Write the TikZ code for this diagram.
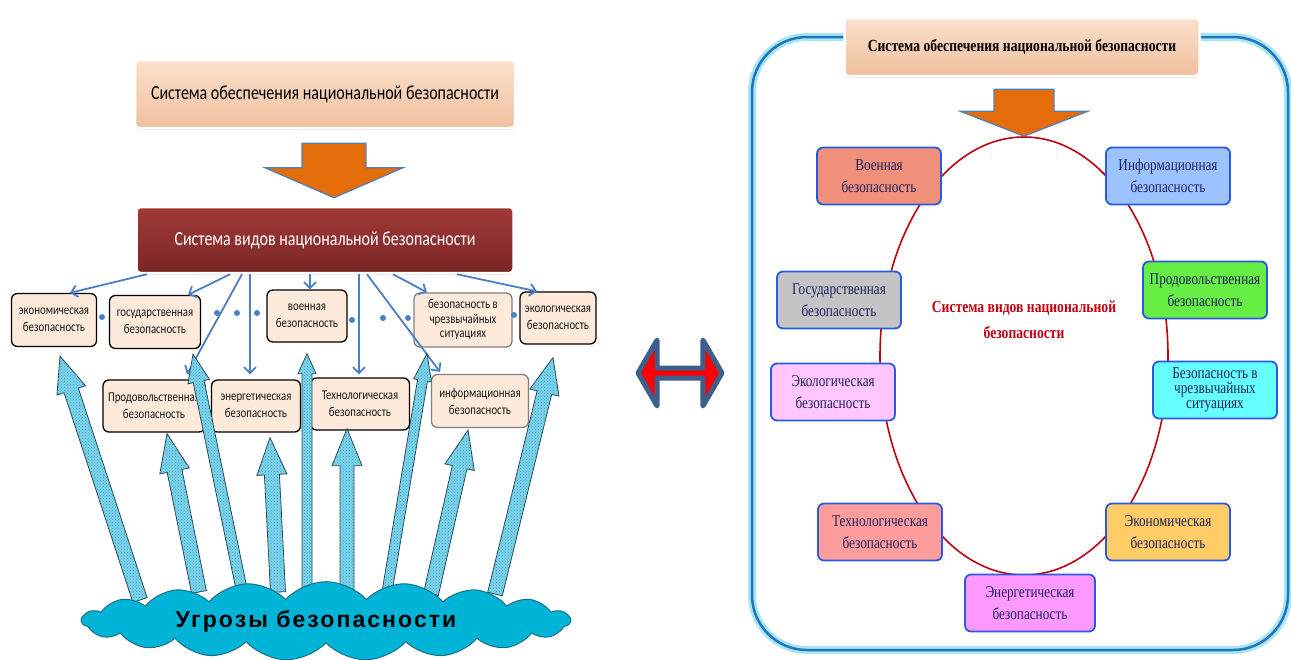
\documentclass[tikz,border=0pt]{standalone}
\usepackage{fontspec}
\usetikzlibrary{shapes.geometric,shapes.symbols,shapes.arrows,calc,patterns,shadows,arrows.meta}
\newfontfamily\leftfont[FakeStretch=0.8]{Carlito}
\newfontfamily\rightfont[FakeStretch=0.8]{Liberation Serif}
\newfontfamily\threatfont[LetterSpace=9]{Liberation Sans}
\definecolor{peachbox}{RGB}{253,234,218}
\definecolor{peachtop}{RGB}{251,224,204}
\definecolor{peachbot}{RGB}{240,192,158}
\definecolor{vidtop}{RGB}{162,58,56}
\definecolor{vidbot}{RGB}{122,38,38}
\definecolor{linkblue}{RGB}{74,128,200}
\definecolor{threatfill}{RGB}{125,212,234}
\definecolor{threatdot}{RGB}{60,160,200}
\definecolor{threatline}{RGB}{40,70,80}
\definecolor{cloudfill}{RGB}{0,180,216}
\definecolor{cloudline}{RGB}{26,111,134}
\definecolor{orangearr}{RGB}{228,108,10}
\definecolor{steelblue}{RGB}{79,129,189}
\definecolor{dblblue}{RGB}{61,95,140}
\definecolor{frameblue}{RGB}{31,116,196}
\definecolor{glowcyan}{RGB}{168,230,238}
\definecolor{boxblue}{RGB}{40,90,230}
\definecolor{navy}{RGB}{31,32,96}
\definecolor{ringred}{RGB}{192,0,16}
% fat hatched arrow: style, base, tip, shaft half width, head half width, head length
\newcommand{\fatarrow}[6]{%
  \draw[#1] ($(#2)!#4!90:(#3)$) -- ($(#3)!#6!(#2)!#4!90:(#3)$) -- ($(#3)!#6!(#2)!#5!90:(#3)$) -- (#3)
    -- ($(#3)!#6!(#2)!#5!-90:(#3)$) -- ($(#3)!#6!(#2)!#4!-90:(#3)$) -- ($(#2)!#4!-90:(#3)$) -- cycle;}
\begin{document}
\begin{tikzpicture}[x=1pt, y=-1pt,
  lbox/.style={draw=black, line width=1.3pt, rounded corners=6pt, fill=peachbox, align=center, inner sep=1pt, text=black!90,
    font=\leftfont\fontsize{13.5}{17}\selectfont},
  lboxg/.style={lbox, draw=black!50},
  lhead/.style={rounded corners=4pt, draw=white, line width=2.5pt, align=center, font=\leftfont\fontsize{20}{24}\selectfont,
    drop shadow={opacity=0.35, shadow xshift=0pt, shadow yshift=-1.5pt}},
  thinarrow/.style={draw=linkblue, line width=1.8pt, -{Straight Barb[length=6pt,width=12pt]}},
  threat/.style={draw=threatline, line width=0.8pt, fill=threatfill, postaction={pattern=crosshatch dots, pattern color=threatdot}},
  orangefat/.style={draw=steelblue, line width=1.2pt, fill=orangearr},
  rbox/.style={draw=boxblue, line width=1.8pt, rounded corners=6pt, minimum width=124pt, minimum height=57pt, align=center, text=navy,
    inner sep=1pt, font=\rightfont\fontsize{16.5}{22}\selectfont},
  dot/.style={circle, fill=linkblue, inner sep=0pt, minimum size=6pt}]
\useasboundingbox (0,0) rectangle (1291,659);

% left: system of national security
\node[lhead, top color=peachtop, bottom color=peachbot, minimum width=380pt, minimum height=68pt] (lsys) at (325,94)
  {Система обеспечения национальной безопасности};
\node[lhead, top color=vidtop, bottom color=vidbot, text=white, minimum width=377pt, minimum height=66pt] (lvid) at (325,240)
  {Система видов национальной безопасности};
\coordinate (ob1) at ([shift={(9,14)}]lsys.south);
\coordinate (ot1) at ([shift={(9,-8)}]lvid.north);
\fatarrow{orangefat}{ob1}{ot1}{32pt}{69pt}{30pt}

% kinds of security
\node[lbox, minimum width=85pt, minimum height=53pt] (leco) at (54,320) {экономическая\\безопасность};
\node[lbox, minimum width=91pt, minimum height=53pt] (lgos) at (155,322) {государственная\\безопасность};
\node[lbox, minimum width=80pt, minimum height=52pt] (lvoen) at (307,316) {военная\\безопасность};
\node[lboxg, minimum width=98pt, minimum height=54pt, font=\leftfont\fontsize{13.5}{14.5}\selectfont] (lchrez) at (463,320)
  {безопасность в\\чрезвычайных\\ситуациях};
\node[lbox, minimum width=76pt, minimum height=52pt] (lekol) at (558,318) {экологическая\\безопасность};
\node[lbox, minimum width=102pt, minimum height=52pt] (lprod) at (154,406) {Продовольственная\\безопасность};
\node[lbox, minimum width=89pt, minimum height=52pt] (lenerg) at (256,406) {энергетическая\\безопасность};
\node[lbox, minimum width=99pt, minimum height=52pt] (ltech) at (360,404) {Технологическая\\безопасность};
\node[lboxg, minimum width=97pt, minimum height=53pt] (linfo) at (480,401) {информационная\\безопасность};

\foreach \x/\y [count=\i] in {102/317, 217/313, 237/313, 257/313, 352/320, 383/318, 408/318, 514/315}
  \node[dot] (dot\i) at (\x,\y) {};

\draw[thinarrow] ([shift={(-178,0)}]lvid.south) -- ([shift={(16,0)}]leco.north);
\draw[thinarrow] ([shift={(-95,0)}]lvid.south) -- ([shift={(33,0)}]lgos.north);
\draw[thinarrow] ([shift={(-83,0)}]lvid.south) -- ([shift={(33,-5)}]lprod.north);
\draw[thinarrow] ([shift={(-75,0)}]lvid.south) -- ([shift={(-6,-5)}]lenerg.north);
\draw[thinarrow] ([shift={(-15,0)}]lvid.south) -- ([shift={(3,0)}]lvoen.north);
\draw[thinarrow] ([shift={(34,0)}]lvid.south) -- ([shift={(-1,-3)}]ltech.north);
\draw[thinarrow] ([shift={(42,0)}]lvid.south) -- ([shift={(-40,-2)}]linfo.north);
\draw[thinarrow] ([shift={(68,0)}]lvid.south) -- ([shift={(-36,0)}]lchrez.north);
\draw[thinarrow] ([shift={(132,0)}]lvid.south) -- ([shift={(-21,0)}]lekol.north);

% threats
\coordinate (b1) at (140,600); \coordinate (t1) at ([shift={(6,9)}]leco.south);
\coordinate (b2) at (199,592); \coordinate (t2) at ([shift={(13,1)}]lprod.south);
\coordinate (b3) at (243,596); \coordinate (t3) at ([shift={(38,5)}]lgos.south);
\coordinate (b4) at (278,592); \coordinate (t4) at ([shift={(14,5)}]lenerg.south);
\coordinate (b5) at (307,592); \coordinate (t5) at ([shift={(0,11)}]lvoen.south);
\coordinate (b6) at (347,594); \coordinate (t6) at ([shift={(-13,-2)}]ltech.south);
\coordinate (b7) at (387,592); \coordinate (t7) at ([shift={(-36,6)}]lchrez.south);
\coordinate (b8) at (431,594); \coordinate (t8) at ([shift={(-12,2)}]linfo.south);
\coordinate (b9) at (495,594); \coordinate (t9) at ([shift={(-5,13)}]lekol.south);
\fatarrow{threat}{b1}{t1}{7.5pt}{15pt}{36pt}
\fatarrow{threat}{b2}{t2}{7.5pt}{15pt}{38pt}
\fatarrow{threat}{b3}{t3}{5.5pt}{11pt}{28pt}
\fatarrow{threat}{b4}{t4}{7.5pt}{15pt}{37pt}
\fatarrow{threat}{b5}{t5}{5pt}{9pt}{20pt}
\fatarrow{threat}{b6}{t6}{7pt}{15pt}{37pt}
\fatarrow{threat}{b7}{t7}{5pt}{9pt}{27pt}
\fatarrow{threat}{b8}{t8}{7.5pt}{15pt}{38pt}
\fatarrow{threat}{b9}{t9}{7.5pt}{15pt}{36pt}
\node[cloud, cloud puffs=19, cloud puff arc=95, aspect=7, draw=cloudline, line width=1pt, fill=cloudfill,
  minimum width=488pt, minimum height=64pt, inner sep=0pt, font=\threatfont\bfseries\fontsize{23}{26}\selectfont] (threats) at (326,621)
  {\hspace*{-20pt}Угрозы безопасности};

% link between both views
\node[double arrow, draw=dblblue, line width=5pt, line join=round, fill=red, minimum height=84pt, minimum width=66pt,
  double arrow head extend=14pt, double arrow tip angle=120, inner sep=0pt] (link) at (680,373) {};

% right: ring of kinds
\node[draw=frameblue, line width=2.5pt, rounded corners=55pt, preaction={draw=glowcyan, line width=8pt},
  minimum width=536pt, minimum height=613pt] (frame) at (1020,343.5) {};
\node[ellipse, draw=ringred, line width=1.6pt, minimum width=288pt, minimum height=438pt, inner sep=0pt] (ring) at (1024,356) {};
\node[lhead, top color=peachtop, bottom color=peachbot, minimum width=355pt, minimum height=58pt,
  font=\rightfont\bfseries\fontsize{17}{20}\selectfont] (rsys) at (1022,47) {Система обеспечения национальной безопасности};
\coordinate (ob2) at ([shift={(2,12)}]rsys.south);
\fatarrow{orangefat}{ob2}{ring.north}{30pt}{64pt}{25pt}
\node[font=\rightfont\bfseries\fontsize{17}{26}\selectfont, text=ringred, align=center] (rvid) at (1024,320)
  {Система видов национальной\\безопасности};

\node[rbox, fill={rgb,255:red,240;green,144;blue,122}] (rvoen) at (879,176) {Военная\\безопасность};
\node[rbox, fill={rgb,255:red,156;green,195;blue,255}] (rinfo) at (1168,176) {Информационная\\безопасность};
\node[rbox, fill={rgb,255:red,196;green,196;blue,196}] (rgos) at (839,300) {Государственная\\безопасность};
\node[rbox, fill={rgb,255:red,102;green,238;blue,68}] (rprod) at (1205,290) {Продовольственная\\безопасность};
\node[rbox, fill={rgb,255:red,255;green,198;blue,255}] (rekol) at (833,392) {Экологическая\\безопасность};
\node[rbox, fill={rgb,255:red,102;green,255;blue,255}, font=\rightfont\fontsize{16.5}{15}\selectfont] (rchrez) at (1215,390)
  {Безопасность в\\чрезвычайных\\ситуациях};
\node[rbox, fill={rgb,255:red,255;green,156;blue,156}] (rtech) at (880,532) {Технологическая\\безопасность};
\node[rbox, fill={rgb,255:red,255;green,204;blue,102}] (recon) at (1168,532) {Экономическая\\безопасность};
\node[rbox, fill={rgb,255:red,255;green,153;blue,255}, minimum width=130pt] (renerg) at (1030,603) {Энергетическая\\безопасность};
\end{tikzpicture}
\end{document}
